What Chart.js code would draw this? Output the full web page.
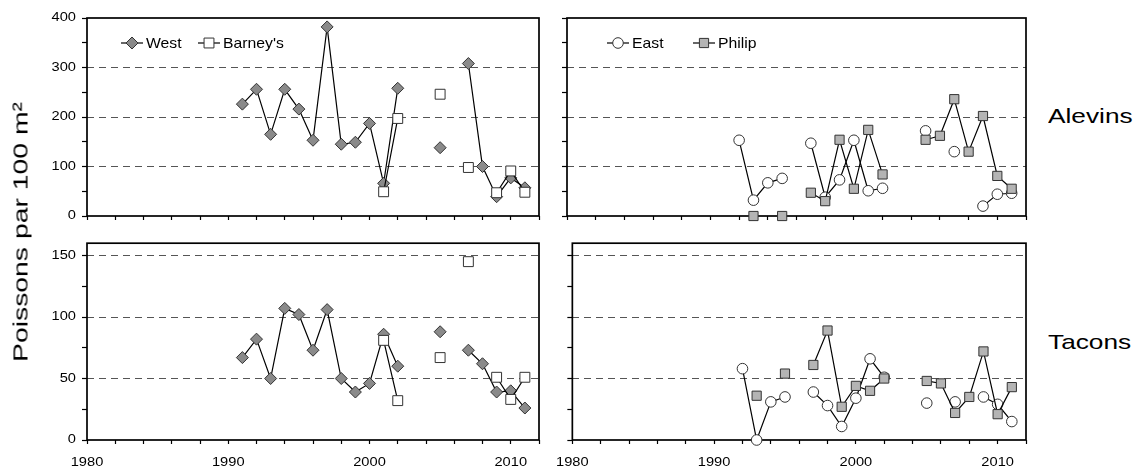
<!DOCTYPE html>
<html>
<head>
<meta charset="utf-8">
<script src="https://cdn.jsdelivr.net/npm/chart.js@4/dist/chart.umd.min.js"></script>
<style>
  body { margin: 0; background: #fff; }
  #wrap { position: relative; width: 1138px; height: 469px; overflow: hidden;
          font-family: "Liberation Sans", Arial, sans-serif; color: #000; }
  canvas { position: absolute; }
  .side { position: absolute; left: 1048px; font-size: 21px; line-height: 21px;
          white-space: nowrap; transform-origin: 0 0; transform: scaleX(1.25); }
  #ytitle { position: absolute; left: 19.5px; top: 231.5px; font-size: 21px; line-height: 21px;
            white-space: nowrap; transform: translate(-50%, -50%) rotate(-90deg) scaleX(1.35); }
</style>
</head>
<body>
<div id="wrap">
  <canvas id="tl" width="550" height="230" style="left:0;top:0"></canvas>
  <canvas id="tr" width="490" height="230" style="left:548px;top:0"></canvas>
  <canvas id="bl" width="550" height="239" style="left:0;top:230px"></canvas>
  <canvas id="br" width="490" height="239" style="left:548px;top:230px"></canvas>
  <div id="ytitle">Poissons par 100 m²</div>
  <div class="side" style="top:104.5px">Alevins</div>
  <div class="side" style="top:330.5px">Tacons</div>
</div>
<script>
const years = [1991, 1992, 1993, 1994, 1995, 1996, 1997, 1998, 1999, 2000, 2001,
               2002, 2003, 2004, 2005, 2006, 2007, 2008, 2009, 2010, 2011];

// alevins (top row)
const westAlevins    = [226, 256, 165, 256, 216, 153, 382, 145, 149, 187, 66, 258, null, null, 138, null, 308, 100, 39, 77, 57];
const barneysAlevins = [null, null, null, null, null, null, null, null, null, null, 49, 197, null, null, 246, null, 98, null, 47, 91, 48];
const eastAlevins    = [null, 153, 32, 67, 76, null, 147, 38, 73, 153, 51, 56, null, null, 172, null, 130, null, 20, 44, 46];
const philipAlevins  = [null, null, 0, null, 0, null, 47, 30, 154, 55, 174, 84, null, null, 154, 162, 236, 130, 202, 81, 55];

// tacons (bottom row)
const westTacons    = [67, 82, 50, 107, 102, 73, 106, 50, 39, 46, 86, 60, null, null, 88, null, 73, 62, 39, 40, 26];
const barneysTacons = [null, null, null, null, null, null, null, null, null, null, 81, 32, null, null, 67, null, 145, null, 51, 33, 51];
const eastTacons    = [null, 58, 0, 31, 35, null, 39, 28, 11, 34, 66, 51, null, null, 30, null, 31, null, 35, 29, 15];
const philipTacons  = [null, null, 36, null, 54, null, 61, 89, 27, 44, 40, 50, null, null, 48, 46, 22, 35, 72, 21, 43];

const yearTicks = [1980, 1982, 1984, 1986, 1988, 1990, 1992, 1994, 1996, 1998, 2000, 2002, 2004, 2006, 2008, 2010, 2012];
const yearLabels = [1980, 1990, 2000, 2010];
const alevinTicks = [0, 50, 100, 150, 200, 250, 300, 350, 400];
const alevinLabels = [0, 100, 200, 300, 400];
const taconTicks = [0, 25, 50, 75, 100, 125, 150];
const taconLabels = [0, 50, 100, 150];

const looks = {
  "West":     { pointStyle: "rectRot", pointRadius: 6,   pointBackgroundColor: "#8a8a8a", order: 1 },
  "Barney's": { pointStyle: "rect",    pointRadius: 7,   pointBackgroundColor: "#ffffff", order: 0 },
  "East":     { pointStyle: "circle",  pointRadius: 5.3, pointBackgroundColor: "#ffffff", order: 1 },
  "Philip":   { pointStyle: "rect",    pointRadius: 6.5, pointBackgroundColor: "#b4b4b4", order: 0 }
};

function points(vals) {
  return years.map((yr, i) => ({ x: yr, y: vals[i] }));
}

function series(label, vals) {
  return Object.assign({
    label: label,
    data: points(vals),
    borderColor: "#000",
    borderWidth: 1.2,
    pointBorderColor: "#333",
    pointBorderWidth: 1,
    spanGaps: false,
    clip: false,
    tension: 0
  }, looks[label]);
}

// stretch canvas text horizontally, the original uses a wide font
const origFill = CanvasRenderingContext2D.prototype.fillText;
const stretch = {
  id: "stretch",
  beforeInit(chart) {
    const ctx = chart.ctx;
    ctx.textStretch = 1.22;
    ctx.fillText = function (text, x, y) {
      const k = this.textStretch || 1;
      this.save();
      this.translate(x, y);
      this.scale(k, 1);
      origFill.call(this, text, 0, 0);
      this.restore();
    };
  }
};

const frame = {
  id: "frame",
  beforeDatasetsDraw(chart) {
    const { ctx, chartArea: a } = chart;
    ctx.save();
    ctx.strokeStyle = "#000";
    ctx.lineWidth = 1.7;
    ctx.strokeRect(a.left, a.top, a.right - a.left, a.bottom - a.top);
    ctx.restore();
  }
};

function marker(ctx, ds, x, y) {
  const r = ds.pointRadius;
  ctx.fillStyle = ds.pointBackgroundColor;
  ctx.strokeStyle = ds.pointBorderColor;
  ctx.lineWidth = ds.pointBorderWidth;
  ctx.beginPath();
  if (ds.pointStyle === "circle") {
    ctx.arc(x, y, r, 0, Math.PI * 2);
  } else if (ds.pointStyle === "rectRot") {
    ctx.moveTo(x, y - r); ctx.lineTo(x + r, y); ctx.lineTo(x, y + r); ctx.lineTo(x - r, y); ctx.closePath();
  } else {
    const s = r * Math.SQRT1_2;
    ctx.rect(x - s, y - s, 2 * s, 2 * s);
  }
  ctx.fill();
  ctx.stroke();
}

const panelLegend = {
  id: "panelLegend",
  afterDraw(chart, args, opts) {
    if (!opts.offsets) return;
    const ctx = chart.ctx;
    ctx.save();
    ctx.font = "15px 'Liberation Sans', Arial, sans-serif";
    ctx.textBaseline = "middle";
    ctx.textAlign = "left";
    ctx.textStretch = 1.05;
    chart.data.datasets.forEach((ds, i) => {
      const x0 = chart.chartArea.left + opts.offsets[i];
      const y = opts.y;
      ctx.strokeStyle = "#000";
      ctx.lineWidth = 1.2;
      ctx.beginPath(); ctx.moveTo(x0, y); ctx.lineTo(x0 + 22, y); ctx.stroke();
      marker(ctx, ds, x0 + 11, y);
      ctx.fillStyle = "#000";
      ctx.fillText(ds.label, x0 + 25, y + 0.5);
    });
    ctx.textStretch = 1.22;
    ctx.restore();
  }
};

const tickFont = { family: "'Liberation Sans', Arial, sans-serif", size: 12 };

function panel(id, sets, yTicks, yLabels, yMax, cfg) {
  return new Chart(document.getElementById(id), {
    type: "line",
    data: { datasets: sets },
    options: {
      responsive: false,
      animation: false,
      devicePixelRatio: 1,
      layout: { padding: cfg.padding },
      plugins: {
        legend: { display: false },
        tooltip: { enabled: false },
        panelLegend: { offsets: cfg.legend, y: 43 }
      },
      scales: {
        x: {
          type: "linear",
          min: 1980,
          max: 2012,
          afterBuildTicks: s => { s.ticks = yearTicks.map(v => ({ value: v })); },
          afterFit: s => { s.height = cfg.xHeight; },
          border: { display: false },
          grid: { drawOnChartArea: false, tickLength: 4, tickColor: "#000", tickWidth: 1.2 },
          ticks: {
            autoSkip: false, maxRotation: 0, padding: 11, color: "#000", font: tickFont,
            callback: v => (cfg.xLabels && yearLabels.includes(v)) ? String(v) : ""
          }
        },
        y: {
          min: 0,
          max: yMax,
          afterBuildTicks: s => { s.ticks = yTicks.map(v => ({ value: v })); },
          afterFit: s => { s.width = cfg.yWidth; },
          border: { display: false, dash: [7, 5] },
          grid: {
            color: c => (c.tick && yLabels.includes(c.tick.value) && c.tick.value > 0 && c.tick.value < yMax) ? "#555" : "rgba(0,0,0,0)",
            lineWidth: 1,
            tickColor: "#000",
            tickWidth: 1.2,
            tickLength: 5
          },
          ticks: {
            autoSkip: false, padding: 6, color: "#000", font: tickFont,
            callback: v => (cfg.yLabels && yLabels.includes(v)) ? String(v) : ""
          }
        }
      }
    },
    plugins: [stretch, frame, panelLegend]
  });
}

panel("tl", [series("West", westAlevins), series("Barney's", barneysAlevins)], alevinTicks, alevinLabels, 400,
  { padding: { top: 18, right: 4, left: 0, bottom: 0 }, yWidth: 87, xHeight: 14, xLabels: false, yLabels: true, legend: [34, 111] });
panel("tr", [series("East", eastAlevins), series("Philip", philipAlevins)], alevinTicks, alevinLabels, 400,
  { padding: { top: 18, right: 12, left: 0, bottom: 0 }, yWidth: 19, xHeight: 14, xLabels: false, yLabels: false, legend: [40, 126] });
panel("bl", [series("West", westTacons), series("Barney's", barneysTacons)], taconTicks, taconLabels, 160,
  { padding: { top: 12, right: 4, left: 0, bottom: 0 }, yWidth: 87, xHeight: 29, xLabels: true, yLabels: true, legend: null });
panel("br", [series("East", eastTacons), series("Philip", philipTacons)], taconTicks, taconLabels, 160,
  { padding: { top: 12, right: 12, left: 0, bottom: 0 }, yWidth: 19, xHeight: 29, xLabels: true, yLabels: false, legend: null });
</script>
</body>
</html>
